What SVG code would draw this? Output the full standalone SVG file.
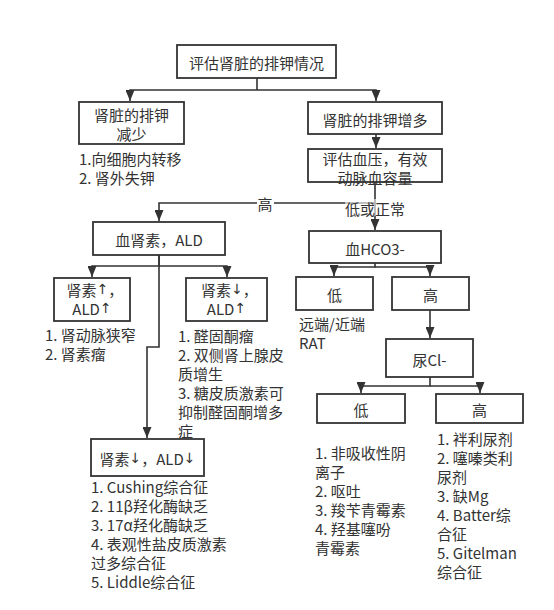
<svg xmlns="http://www.w3.org/2000/svg" width="554" height="610" viewBox="0 0 554 610">
<style>
.box{fill:#fff;stroke:#333;stroke-width:1.8}
.t{font-family:"Noto Sans CJK SC","Liberation Sans",sans-serif;font-size:15px;fill:#333;dominant-baseline:central}
.c{text-anchor:middle}
.ar{font-family:"DejaVu Sans",sans-serif;font-size:14px}
.ln{fill:none;stroke:#333;stroke-width:1.6}
</style>
<defs>
<marker id="ah" markerUnits="userSpaceOnUse" markerWidth="11" markerHeight="9" refX="11" refY="4.5" orient="auto">
<path d="M0,0 L11,4.5 L0,9 z" fill="#333"/>
</marker>
</defs>
<rect width="554" height="610" fill="#fff"/>
<g id="connectors">
<path class="ln" d="M257,78 V90"/>
<path class="ln" d="M257,90 H130 V101" marker-end="url(#ah)"/>
<path class="ln" d="M257,90 H376 V101" marker-end="url(#ah)"/>
<path class="ln" d="M376,134 V148" marker-end="url(#ah)"/>
<path class="ln" d="M375,182 V203 H159 V221" marker-end="url(#ah)"/>
<path class="ln" d="M375,203 V230" marker-end="url(#ah)"/>
<rect x="257" y="195" width="17" height="16" fill="#fff"/>
<text class="t c" x="265" y="203">高</text>
<rect x="345" y="199" width="60" height="17" fill="#fff" fill-opacity="0.6"/>
<text class="t c" x="375" y="208">低或正常</text>
<path class="ln" d="M159,255 V266 H92 V277" marker-end="url(#ah)"/>
<path class="ln" d="M159,266 H227 V277" marker-end="url(#ah)"/>
<path class="ln" d="M159,255 V347 H147 V438" marker-end="url(#ah)"/>
<path class="ln" d="M375,263 V267 H334 V276" marker-end="url(#ah)"/>
<path class="ln" d="M375,267 H430 V276" marker-end="url(#ah)"/>
<path class="ln" d="M430,310 V338" marker-end="url(#ah)"/>
<path class="ln" d="M430,377 V386 H361 V393" marker-end="url(#ah)"/>
<path class="ln" d="M430,386 H480 V393" marker-end="url(#ah)"/>
</g>
<g id="n-top">
<rect class="box" x="177" y="45" width="159" height="33"/>
<text class="t c" x="256.5" y="62">评估肾脏的排钾情况</text>
</g>
<g id="n-decrease">
<rect class="box" x="79" y="102" width="105" height="42"/>
<text class="t c" x="131.5" y="114">肾脏的排钾</text>
<text class="t c" x="131.5" y="133">减少</text>
<text class="t" x="79" y="158">1.向细胞内转移</text>
<text class="t" x="79" y="177">2. 肾外失钾</text>
</g>
<g id="n-increase">
<rect class="box" x="308" y="102" width="134" height="32"/>
<text class="t c" x="375" y="119">肾脏的排钾增多</text>
</g>
<g id="n-bp">
<rect class="box" x="308" y="149" width="134" height="33"/>
<text class="t c" x="375" y="158">评估血压，有效</text>
<text class="t c" x="375" y="177">动脉血容量</text>
</g>
<g id="n-renin">
<rect class="box" x="93" y="222" width="132" height="33"/>
<text class="t c" x="159" y="239">血肾素，ALD</text>
</g>
<g id="n-r1">
<rect class="box" x="54" y="278" width="76" height="43"/>
<text class="t c" x="95" y="289">肾素<tspan class="ar">↑</tspan>，</text>
<text class="t c" x="92" y="308">ALD<tspan class="ar">↑</tspan></text>
<text class="t" x="45" y="334">1. 肾动脉狭窄</text>
<text class="t" x="45" y="353">2. 肾素瘤</text>
</g>
<g id="n-r2">
<rect class="box" x="186" y="278" width="81" height="43"/>
<text class="t c" x="229.5" y="289">肾素<tspan class="ar">↓</tspan>，</text>
<text class="t c" x="226.5" y="308">ALD<tspan class="ar">↑</tspan></text>
<text class="t" x="178" y="335">1. 醛固酮瘤</text>
<text class="t" x="178" y="354">2. 双侧肾上腺皮</text>
<text class="t" x="178" y="373">质增生</text>
<text class="t" x="178" y="392">3. 糖皮质激素可</text>
<text class="t" x="178" y="411">抑制醛固酮增多</text>
<text class="t" x="178" y="430">症</text>
</g>
<g id="n-r3">
<rect class="box" x="91" y="439" width="113" height="37"/>
<text class="t c" x="147.5" y="458">肾素<tspan class="ar">↓</tspan>，ALD<tspan class="ar">↓</tspan></text>
<text class="t" x="91" y="486">1. Cushing综合征</text>
<text class="t" x="91" y="505">2. 11β羟化酶缺乏</text>
<text class="t" x="91" y="524">3. 17α羟化酶缺乏</text>
<text class="t" x="91" y="543">4. 表观性盐皮质激素</text>
<text class="t" x="91" y="562">过多综合征</text>
<text class="t" x="91" y="581">5. Liddle综合征</text>
</g>
<g id="n-hco3">
<rect class="box" x="309" y="231" width="132" height="32"/>
<text class="t c" x="375" y="248">血HCO3-</text>
</g>
<g id="n-low">
<rect class="box" x="296" y="277" width="77" height="33"/>
<text class="t c" x="334.5" y="294">低</text>
<text class="t" x="299" y="323">远端/近端</text>
<text class="t" x="299" y="342">RAT</text>
</g>
<g id="n-high">
<rect class="box" x="392" y="277" width="77" height="33"/>
<text class="t c" x="430.5" y="294">高</text>
</g>
<g id="n-ucl">
<rect class="box" x="386" y="339" width="87" height="38"/>
<text class="t c" x="429.5" y="359">尿Cl-</text>
</g>
<g id="n-ulow">
<rect class="box" x="317" y="394" width="88" height="29"/>
<text class="t c" x="361" y="409">低</text>
<text class="t" x="315" y="452">1. 非吸收性阴</text>
<text class="t" x="315" y="471">离子</text>
<text class="t" x="315" y="490">2. 呕吐</text>
<text class="t" x="315" y="509">3. 羧苄青霉素</text>
<text class="t" x="315" y="528">4. 羟基噻吩</text>
<text class="t" x="315" y="547">青霉素</text>
</g>
<g id="n-uhigh">
<rect class="box" x="436" y="394" width="87" height="29"/>
<text class="t c" x="479.5" y="409">高</text>
<text class="t" x="437" y="438">1. 袢利尿剂</text>
<text class="t" x="437" y="457">2. 噻嗪类利</text>
<text class="t" x="437" y="476">尿剂</text>
<text class="t" x="437" y="495">3. 缺Mg</text>
<text class="t" x="437" y="514">4. Batter综</text>
<text class="t" x="437" y="533">合征</text>
<text class="t" x="437" y="552">5. Gitelman</text>
<text class="t" x="437" y="571">综合征</text>
</g>
</svg>
